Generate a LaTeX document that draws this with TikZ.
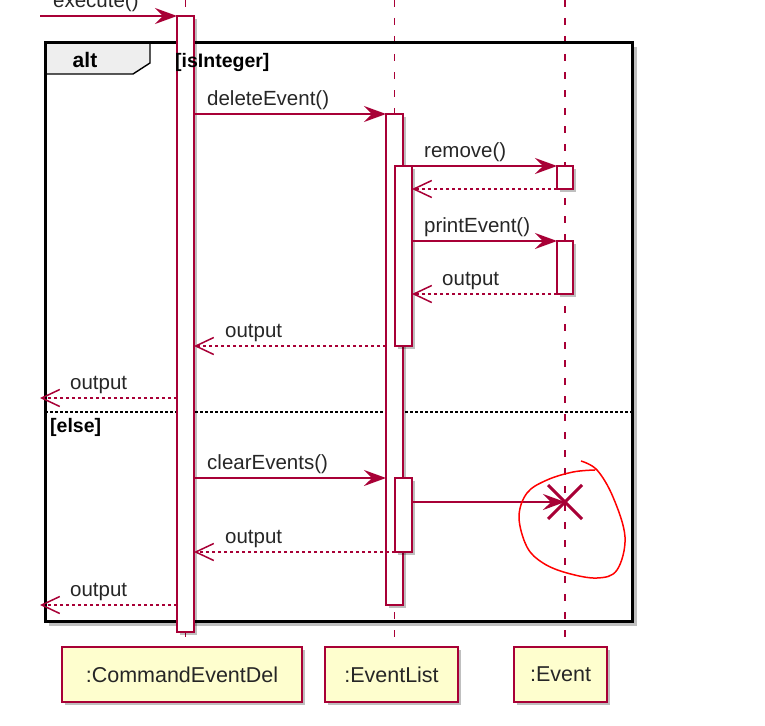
\documentclass[tikz,border=0pt]{standalone}
\usepackage{fontspec}
\setmainfont{Liberation Sans}
\usetikzlibrary{arrows.meta,shadows,positioning}
\definecolor{puml}{HTML}{A80036}
\definecolor{pfill}{HTML}{FEFECE}
\definecolor{tabfill}{HTML}{EEEEEE}
\tikzset{
  shad/.style={drop shadow={shadow xshift=3pt,shadow yshift=-3pt,fill=black,opacity=0.25}},
  lifeline/.style={draw=puml,line width=1.5pt,dash pattern=on 7pt off 11pt},
  actbar/.style={draw=puml,fill=white,line width=1.2pt,shad},
  msg/.style={draw=puml,line width=1.3pt,-{Stealth[length=22pt,width=16pt,inset=8pt]}},
  ret/.style={draw=puml,line width=1.2pt,dash pattern=on 3pt off 3pt,-{Straight Barb[length=18pt,width=17pt,line width=1.5pt]}},
  lbl/.style={anchor=base west,inner sep=0pt,font=\fontsize{20.5}{24}\selectfont,text=black!85},
  part/.style={draw=puml,fill=pfill,line width=1.4pt,shad,inner sep=0pt,font=\fontsize{21.5}{25}\selectfont,text=black!85},
  grd/.style={anchor=base west,inner sep=0pt,font=\bfseries\fontsize{19.5}{23}\selectfont}
}
\begin{document}
\begin{tikzpicture}[x=1pt,y=-1pt]
\useasboundingbox (0,0) rectangle (765,725);
% participants
\node[part,minimum width=240pt,minimum height=55pt] (p1) at (182,674.5) {:CommandEventDel};
\node[part,minimum width=133pt,minimum height=55pt] (p2) at (391.5,674.5) {:EventList};
\node[part,minimum width=93pt,minimum height=55pt] (p3) at (560.5,674.5) {:Event};
% lifelines
\coordinate (la) at (185.5,0); \coordinate (lb) at (394.5,0); \coordinate (lc) at (565,0);
\draw[lifeline] (la) -- (la |- p1.north);
\draw[lifeline] (lb) -- (lb |- p2.north);
\draw[lifeline] (lc) -- (lc |- p3.north);
% alt frame
\draw[line width=3pt,black!25] (635,47) -- (635,624) -- (49,624);
\draw[line width=1.4pt,fill=tabfill] (45,43) -- (150,43) -- (150,63) -- (133,74) -- (45,74) -- cycle;
\draw[line width=3pt] (45,43) rectangle (632,621);
\node[anchor=base,inner sep=0pt,font=\bfseries\fontsize{21}{25}\selectfont] (alt) at (85,67) {alt};
\draw[line width=1.3pt,dash pattern=on 2.5pt off 2.5pt] (45,412) -- (632,412);
% activation bars
\draw[actbar] (177,16) rectangle (194,632);
\draw[actbar] (386,114) rectangle (403,605);
\draw[actbar] (395,166) rectangle (412,346);
\draw[actbar] (395,478) rectangle (412,552);
\draw[actbar] (557,166) rectangle (573,189);
\draw[actbar] (557,241) rectangle (573,294);
\node[grd] (g1) at (175,67) {[isInteger]};
\node[grd] (g2) at (50,432) {[else]};
% message endpoints
\coordinate (ex0) at (40,16);   \coordinate (ex1) at (177,16);
\coordinate (de0) at (194,114); \coordinate (de1) at (386,114);
\coordinate (rm0) at (412,166); \coordinate (rm1) at (557,166);
\coordinate (rr0) at (557,189); \coordinate (rr1) at (412,189);
\coordinate (pe0) at (412,241); \coordinate (pe1) at (557,241);
\coordinate (o10) at (557,294); \coordinate (o11) at (412,294);
\coordinate (o20) at (386,346); \coordinate (o21) at (194,346);
\coordinate (o30) at (177,398); \coordinate (o31) at (40,398);
\coordinate (ce0) at (194,478); \coordinate (ce1) at (386,478);
\coordinate (ds0) at (412,502); \coordinate (ds1) at (565,502);
\coordinate (o40) at (395,552); \coordinate (o41) at (194,552);
\coordinate (o50) at (177,605); \coordinate (o51) at (40,605);
% messages
\draw[msg] (ex0) -- (ex1);
\node[lbl] (lex) at (53,8) {execute()};
\draw[msg] (de0) -- (de1);
\node[lbl] (lde) at (207,105) {deleteEvent()};
\draw[msg] (rm0) -- (rm1);
\node[lbl] (lrm) at (424,157) {remove()};
\draw[ret] (rr0) -- (rr1);
\draw[msg] (pe0) -- (pe1);
\node[lbl] (lpe) at (424,232) {printEvent()};
\draw[ret] (o10) -- (o11);
\node[lbl] (lo1) at (442,285) {output};
\draw[ret] (o20) -- (o21);
\node[lbl] (lo2) at (225,337) {output};
\draw[ret] (o30) -- (o31);
\node[lbl] (lo3) at (70,389) {output};
\draw[msg] (ce0) -- (ce1);
\node[lbl] (lce) at (207,469) {clearEvents()};
\draw[msg] (ds0) -- (ds1);
\draw[puml,line width=3pt] (548,485) -- (582,519) (548,519) -- (582,485);
\draw[ret] (o40) -- (o41);
\node[lbl] (lo4) at (225,543) {output};
\draw[ret] (o50) -- (o51);
\node[lbl] (lo5) at (70,596) {output};
% hand-drawn red circle
\draw[red,line width=1.5pt] plot[smooth,tension=0.6] coordinates {(581,461) (597,470) (613,497) (625,537) (617,570) (597,578) (567,573) (543,563) (527,547) (519,517) (527,493) (547,480) (573,472) (595,470)};
\end{tikzpicture}
\end{document}
